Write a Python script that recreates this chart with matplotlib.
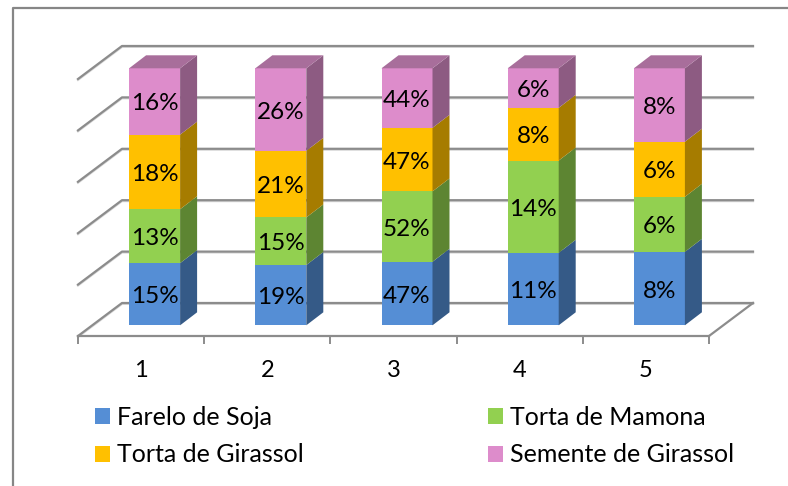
import matplotlib
matplotlib.use('Agg')
import matplotlib.pyplot as plt
import numpy as np
from matplotlib.lines import Line2D
from matplotlib.patches import Patch

plt.rcParams['font.family'] = ['Lato', 'DejaVu Sans']

categories = [1, 2, 3, 4, 5]
series_names = ['Farelo de Soja', 'Torta de Mamona', 'Torta de Girassol', 'Semente de Girassol']
farelo = [15, 19, 47, 11, 8]
mamona = [13, 15, 52, 14, 6]
girassol = [18, 21, 47, 8, 6]
semente = [16, 26, 44, 6, 8]

front_colors = ['#558ED5', '#92D050', '#FFC000', '#DD8CCB']
side_colors = ['#355A87', '#5D8532', '#A67C00', '#8D5B82']
top_color = '#A86E9B'
gray = '#8C8C8C'

W, H = 788, 486
fig = plt.figure(figsize=(W / 100, H / 100), dpi=100)
ax = fig.add_axes([78 / W, (H - 336) / H, 631 / W, 267.7 / H])
ax.set_xlim(0.5, 5.5)
ax.set_ylim(-4.16, 100)
ax.patch.set_visible(False)

# profundidade do 3D, em unidades dos eixos
px_x = 1 / 126.2
px_y = 1 / 2.57
wall_dx = 44 * px_x
wall_dy = 33 * px_y
bar_dx = 17 * px_x
bar_dy = 13 * px_y
bar_shift = 13.5 * px_x
bar_width = 51 * px_x

# paredes e grade
for v in range(0, 101, 20):
    y0 = v - 4.16
    xs = [0.5, 0.5 + wall_dx, 5.5 + wall_dx]
    ys = [y0, y0 + wall_dy, y0 + wall_dy]
    ax.plot(xs, np.array(ys) - 0.35, color='#D8D8D8', lw=1.6, clip_on=False, zorder=1)
    ax.plot(xs, ys, color=gray, lw=1.6, clip_on=False, zorder=1.1)
ax.plot([5.5, 5.5 + wall_dx], [-4.16, -4.16 + wall_dy], color=gray, lw=1.6, clip_on=False, zorder=1.1)

# barras empilhadas em 100%
values = np.array([farelo, mamona, girassol, semente], dtype=float)
shares = values / values.sum(axis=0) * 100
x = np.array(categories) + bar_shift
bottom = np.zeros(len(categories))
for name_i in range(len(series_names)):
    ax.bar(x, shares[name_i], width=bar_width, bottom=bottom, color=front_colors[name_i],
           clip_on=False, zorder=3)
    for j in range(len(categories)):
        xr = x[j] + bar_width / 2
        y0 = bottom[j]
        y1 = y0 + shares[name_i][j]
        ax.fill([xr, xr + bar_dx, xr + bar_dx, xr], [y0, y0 + bar_dy, y1 + bar_dy, y1],
                color=side_colors[name_i], lw=0, clip_on=False, zorder=3)
        ax.text(x[j], (y0 + y1) / 2 - 2.5 * px_y, '%d%%' % values[name_i][j], ha='center', va='center',
                fontsize=17.5, color='black', zorder=5)
    bottom = bottom + shares[name_i]

for j in range(len(categories)):
    xl = x[j] - bar_width / 2
    xr = x[j] + bar_width / 2
    ax.fill([xl, xr, xr + bar_dx, xl + bar_dx], [100, 100, 100 + bar_dy, 100 + bar_dy],
            color=top_color, lw=0, clip_on=False, zorder=3)

# eixo x
for s in ['top', 'left', 'right']:
    ax.spines[s].set_visible(False)
ax.spines['bottom'].set_color(gray)
ax.spines['bottom'].set_linewidth(1.6)
ax.set_yticks([])
ax.set_xticks([c - 0.5 for c in categories] + [categories[-1] + 0.5])
ax.set_xticklabels([])
ax.set_xticks(categories, minor=True)
ax.set_xticklabels(categories, minor=True, fontsize=17, color='black')
ax.tick_params(axis='x', which='major', length=5.5, width=1.4, color=gray)
ax.tick_params(axis='x', which='minor', length=0, pad=17.5)

# legenda
order = [0, 2, 1, 3]
handles = [Patch(facecolor=front_colors[i], label=series_names[i]) for i in order]
fig.legend(handles=handles, ncol=2, frameon=False, fontsize=18,
           loc='upper left', bbox_to_anchor=(95 / W, 1 - 406 / H), borderaxespad=0, borderpad=0,
           handlelength=0.6, handleheight=0.6, handletextpad=0.28, labelspacing=0.58, columnspacing=7.36)

# moldura
fig.add_artist(Line2D([13 / W, 13 / W, 1], [0, 1 - 8 / H, 1 - 8 / H], color='#868686', lw=1.6))

fig.savefig('out.png', dpi=100)
